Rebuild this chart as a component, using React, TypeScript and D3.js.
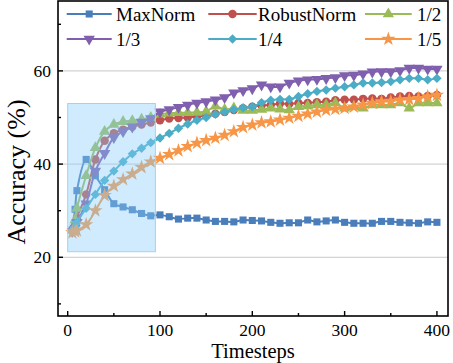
import React, { useEffect, useRef } from "react";
import * as d3 from "d3";

// data
const timesteps = [5, 8, 10, 20, 30, 40, 50, 60, 70, 80, 90, 100, 110, 120, 130, 140, 150, 160, 170, 180, 190, 200,
  210, 220, 230, 240, 250, 260, 270, 280, 290, 300, 310, 320, 330, 340, 350, 360, 370, 380, 390, 400];

const maxNorm = [25.9, 30.3, 34.3, 41.0, 37.5, 34.5, 31.5, 30.8, 30.2, 29.4, 28.9, 29.1, 28.7, 28.2, 28.4, 28.4, 28.0,
  27.7, 27.7, 27.6, 28.0, 27.9, 27.8, 27.5, 27.3, 27.4, 27.4, 28.0, 27.6, 27.8, 28.0, 27.5, 27.3, 27.3, 27.3, 27.7,
  27.7, 27.5, 27.4, 27.3, 27.6, 27.5];
const robustNorm = [25.8, 27.0, 28.5, 33.5, 41.0, 45.0, 46.6, 47.4, 48.0, 48.5, 48.9, 49.4, 49.8, 49.9, 50.0, 50.2,
  50.5, 50.8, 51.2, 51.6, 52.0, 52.3, 52.6, 52.7, 53.0, 52.9, 53.1, 53.1, 53.3, 53.4, 53.7, 53.8, 53.8, 54.0, 54.1,
  54.0, 54.3, 54.5, 54.6, 54.5, 54.6, 54.85];
const half = [25.8, 28.0, 30.5, 37.5, 43.5, 47.0, 48.5, 49.1, 49.3, 49.6, 50.0, 50.7, 50.9, 51.0, 51.0, 51.1, 51.3,
  52.4, 51.7, 52.0, 51.5, 51.5, 51.7, 52.0, 51.8, 51.6, 52.3, 52.5, 52.7, 52.7, 53.1, 52.0, 52.3, 52.0, 52.7, 52.7,
  52.7, 53.1, 52.0, 53.1, 53.1, 53.1];
const third = [25.6, 26.3, 27.5, 31.5, 38.5, 42.3, 45.7, 47.0, 48.0, 49.0, 49.8, 51.2, 51.7, 52.2, 52.7, 53.1, 53.4,
  53.8, 54.3, 55.3, 55.8, 56.2, 57.0, 56.6, 56.6, 57.4, 57.9, 58.1, 58.2, 58.4, 58.6, 59.0, 59.1, 59.4, 59.8, 59.85,
  59.85, 60.1, 60.6, 60.6, 60.4, 60.4];
const quarter = [25.8, 26.5, 27.5, 30.5, 33.5, 36.5, 38.5, 40.5, 42.2, 43.4, 44.6, 45.6, 46.6, 47.7, 48.6, 49.4, 50.0,
  50.7, 51.2, 51.7, 52.1, 52.3, 53.2, 53.7, 53.9, 53.9, 54.5, 55.1, 55.6, 55.9, 56.3, 56.6, 57.0, 57.4, 57.4, 57.5,
  57.7, 58.1, 58.4, 58.4, 58.1, 58.4];
const fifth = [25.3, 25.5, 25.7, 27.0, 30.0, 33.3, 35.3, 36.7, 37.9, 39.3, 40.5, 41.3, 42.1, 42.9, 43.8, 44.5, 45.1,
  45.6, 46.2, 47.0, 47.9, 48.4, 48.9, 49.1, 49.5, 49.9, 50.3, 50.8, 51.2, 51.6, 51.8, 52.0, 52.3, 52.7, 53.1, 53.4,
  53.5, 53.8, 53.9, 54.1, 54.5, 54.8];

const seriesNames = ["MaxNorm", "RobustNorm", "1/2", "1/3", "1/4", "1/5"];
const seriesValues = [maxNorm, robustNorm, half, third, quarter, fifth];
const seriesColors = ["#4a7ebb", "#c0504d", "#9bbb59", "#7f5fae", "#4bacc6", "#f79646"];

const xMajor = [0, 100, 200, 300, 400];
const xMinor = [50, 150, 250, 350];
const yMajor = [20, 40, 60];
const yMinor = [10, 30, 50, 70];

// zoomed-in region marked on the plot
const zoomX = [0, 95];
const zoomY = [21.2, 53];

const W = 453;
const H = 363;
const FONT = "'Liberation Serif', 'Times New Roman', serif";

function symbolFor(i: number) {
  const shapes = [
    { type: d3.symbolSquare, size: 50, rot: 0 },
    { type: d3.symbolCircle, size: 56, rot: 0 },
    { type: d3.symbolTriangle, size: 56, rot: 0 },
    { type: d3.symbolTriangle, size: 56, rot: 180 },
    { type: d3.symbolSquare, size: 44, rot: 45 },
    { type: d3.symbolStar, size: 64, rot: 0 },
  ];
  return shapes[i];
}

function drawChart(el: SVGSVGElement) {
  const left = 58, right = 448, top = 1, bottom = 316;
  const x = d3.scaleLinear().domain([-10.5, 412]).range([left, right]);
  const y = d3.scaleLinear().domain([7.4, 75]).range([bottom, top]);

  const svg = d3.select(el);
  svg.selectAll("*").remove();
  svg.append("rect").attr("width", W).attr("height", H).attr("fill", "#fff");

  // grid
  svg.append("g")
    .selectAll("line")
    .data(yMajor)
    .enter()
    .append("line")
    .attr("x1", left).attr("x2", right)
    .attr("y1", (d) => y(d)).attr("y2", (d) => y(d))
    .attr("stroke", "#c8c8c8").attr("stroke-width", 1);

  // series
  const line = d3.line<number>()
    .x((d, i) => x(timesteps[i]))
    .y((d) => y(d))
    .curve(d3.curveCatmullRom.alpha(0.5));

  seriesValues.forEach((vals, s) => {
    const g = svg.append("g");
    g.append("path")
      .attr("d", line(vals))
      .attr("fill", "none")
      .attr("stroke", seriesColors[s])
      .attr("stroke-width", 2);
    const sym = symbolFor(s);
    g.selectAll("path.m")
      .data(vals)
      .enter()
      .append("path")
      .attr("class", "m")
      .attr("d", d3.symbol().type(sym.type).size(sym.size)())
      .attr("transform", (d, i) => `translate(${x(timesteps[i])},${y(d)}) rotate(${sym.rot})`)
      .attr("fill", seriesColors[s]);
  });

  // highlight box
  svg.append("rect")
    .attr("x", x(zoomX[0]))
    .attr("y", y(zoomY[1]))
    .attr("width", x(zoomX[1]) - x(zoomX[0]))
    .attr("height", y(zoomY[0]) - y(zoomY[1]))
    .attr("fill", "#87cefa")
    .attr("fill-opacity", 0.4)
    .attr("stroke", "#9ed4f2")
    .attr("stroke-width", 1);

  // frame
  svg.append("rect")
    .attr("x", left).attr("y", top)
    .attr("width", right - left).attr("height", bottom - top)
    .attr("fill", "none").attr("stroke", "#000").attr("stroke-width", 1.6);

  const ax = svg.append("g").attr("stroke", "#000").attr("stroke-width", 1.4);
  xMajor.forEach((t) => ax.append("line").attr("x1", x(t)).attr("x2", x(t)).attr("y1", bottom).attr("y2", bottom - 5));
  xMinor.forEach((t) => ax.append("line").attr("x1", x(t)).attr("x2", x(t)).attr("y1", bottom).attr("y2", bottom - 3));
  yMajor.forEach((t) => ax.append("line").attr("x1", left).attr("x2", left + 5).attr("y1", y(t)).attr("y2", y(t)));
  yMinor.forEach((t) => ax.append("line").attr("x1", left).attr("x2", left + 3).attr("y1", y(t)).attr("y2", y(t)));

  const txt = svg.append("g").attr("font-family", FONT).attr("fill", "#000");
  xMajor.forEach((t) =>
    txt.append("text").attr("x", x(t)).attr("y", 336).attr("text-anchor", "middle").attr("font-size", 17.5).text(t));
  yMajor.forEach((t) =>
    txt.append("text").attr("x", 51).attr("y", y(t) + 6).attr("text-anchor", "end").attr("font-size", 17.5).text(t));

  txt.append("text").attr("x", (left + right) / 2).attr("y", 357.5).attr("text-anchor", "middle")
    .attr("font-size", 20.5).text("Timesteps");
  txt.append("text")
    .attr("transform", `translate(25,${172}) rotate(-90)`)
    .attr("text-anchor", "middle").attr("font-size", 26).text("Accuracy (%)");

  // legend
  const cols = [[66.7, 111.7, 116], [208.3, 256.7, 258], [365, 411.7, 417]];
  const rows = [14, 39];
  seriesNames.forEach((name, s) => {
    const c = cols[s % 3];
    const r = rows[Math.floor(s / 3)];
    const g = svg.append("g");
    g.append("line").attr("x1", c[0]).attr("x2", c[1]).attr("y1", r).attr("y2", r)
      .attr("stroke", seriesColors[s]).attr("stroke-width", 2);
    const sym = symbolFor(s);
    g.append("path")
      .attr("d", d3.symbol().type(sym.type).size(sym.size)())
      .attr("transform", `translate(${(c[0] + c[1]) / 2},${r}) rotate(${sym.rot})`)
      .attr("fill", seriesColors[s]);
    g.append("text").attr("x", c[2]).attr("y", r + 6.5).attr("font-family", FONT).attr("font-size", 19)
      .text(name);
  });
}

export default function App() {
  const svgRef = useRef<SVGSVGElement>(null);

  useEffect(() => {
    if (svgRef.current) drawChart(svgRef.current);
  }, []);

  return (
    <svg ref={svgRef} width={W} height={H} style={{ position: "absolute", left: 0, top: 0 }}></svg>
  );
}
